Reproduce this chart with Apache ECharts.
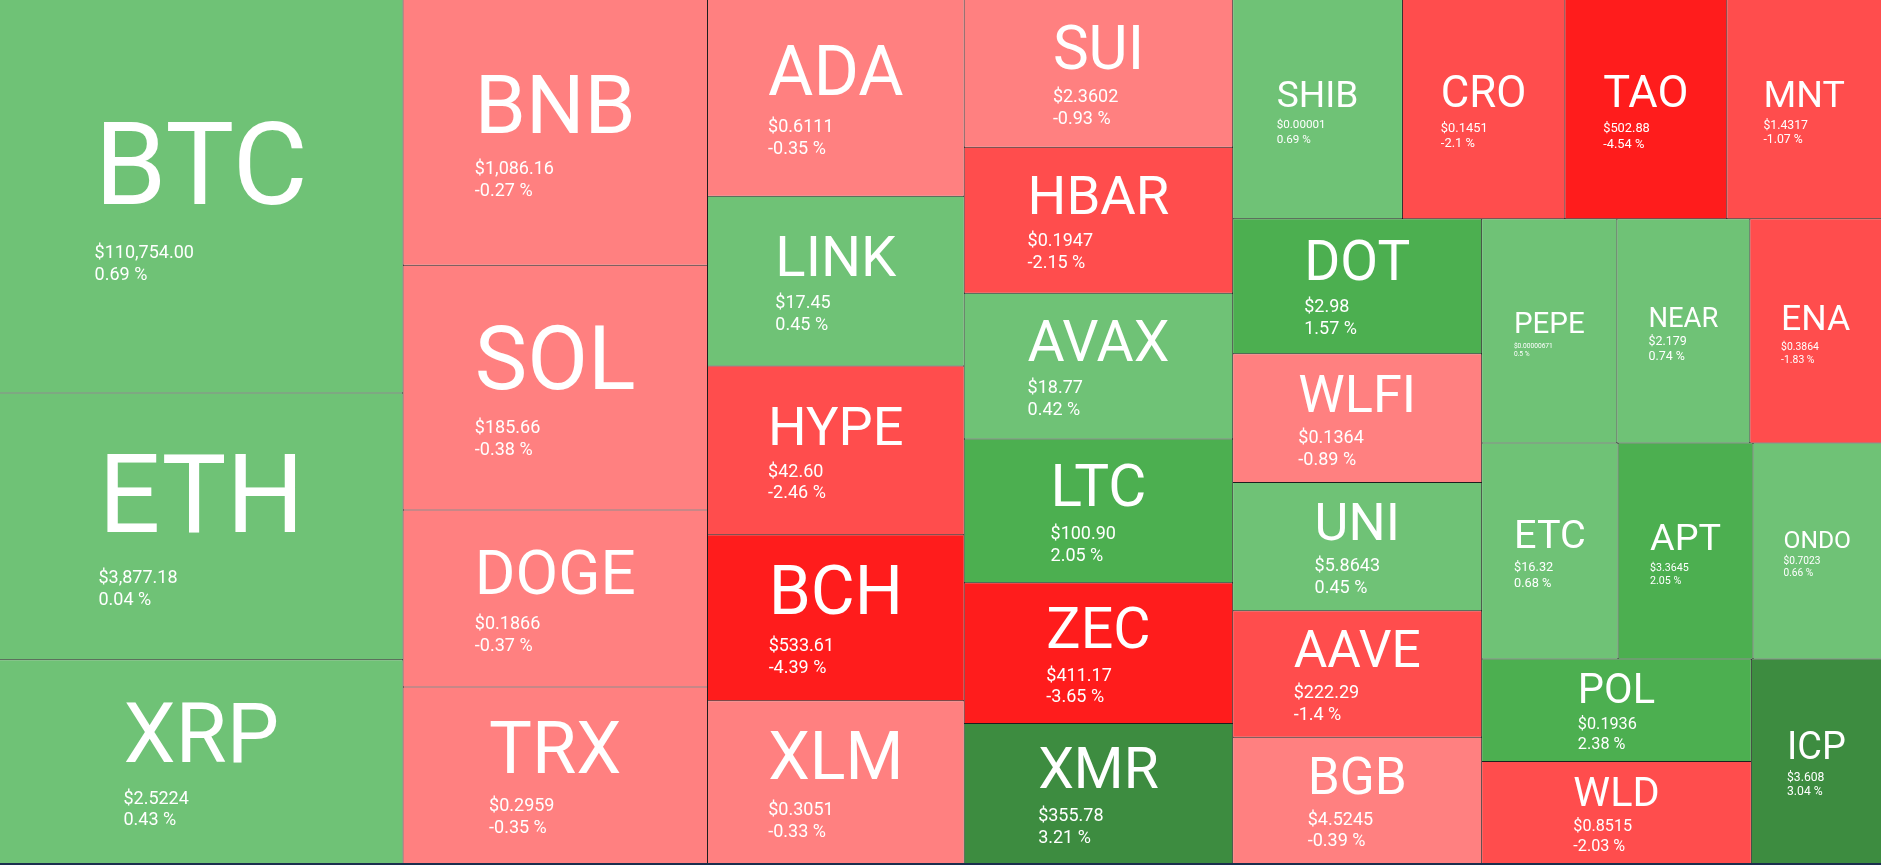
<!DOCTYPE html>
<html><head><meta charset="utf-8">
<script src="https://cdn.jsdelivr.net/npm/echarts@6/dist/echarts.min.js"></script>
<style>html,body{margin:0;padding:0;background:#1b2f4e;overflow:hidden}#c{width:1881px;height:865px}</style>
</head><body><div id="c"></div>
<script>
const symbols = ['BTC','ETH','XRP','BNB','SOL','DOGE','TRX','ADA','LINK','HYPE','BCH','XLM','SUI','HBAR','AVAX','LTC','ZEC','XMR','SHIB','CRO','TAO','MNT','DOT','WLFI','UNI','AAVE','BGB','PEPE','NEAR','ENA','ETC','APT','ONDO','POL','WLD','ICP'];
const sizes = [1592,1079,824,811,747,540,539,506,437,434,427,419,398,393,392,387,379,377,373,357,356,340,337,321,320,316,315,304,299,296,295,292,278,277,276,267];
const prices = ['$110,754.00','$3,877.18','$2.5224','$1,086.16','$185.66','$0.1866','$0.2959','$0.6111','$17.45','$42.60','$533.61','$0.3051','$2.3602','$0.1947','$18.77','$100.90','$411.17','$355.78','$0.00001','$0.1451','$502.88','$1.4317','$2.98','$0.1364','$5.8643','$222.29','$4.5245','$0.00000671','$2.179','$0.3864','$16.32','$3.3645','$0.7023','$0.1936','$0.8515','$3.608'];
const changes = [0.69,0.04,0.43,-0.27,-0.38,-0.37,-0.35,-0.35,0.45,-2.46,-4.39,-0.33,-0.93,-2.15,0.42,2.05,-3.65,3.21,0.69,-2.1,-4.54,-1.07,1.57,-0.89,0.45,-1.4,-0.39,0.5,0.74,-1.83,0.68,2.05,0.66,2.38,-2.03,3.04];

function colorFor(c){
  if (c >= 3) return '#3d8c40';
  if (c >= 1) return '#4caf50';
  if (c >= 0) return '#6fc276';
  if (c > -1) return '#ff8080';
  if (c > -3) return '#ff4d4d';
  return '#ff1c1c';
}
const FONT = 'Roboto';
const mctx = document.createElement('canvas').getContext('2d');
function tw(text, fs){ mctx.font = fs + 'px ' + FONT; return mctx.measureText(text).width; }
function pct(c){ return c + ' %'; }
function baseData(){
  return symbols.map((s,i)=>({name:s, value:sizes[i], price:prices[i], change:changes[i], itemStyle:{color:colorFor(changes[i])}}));
}
const chart = echarts.init(document.getElementById('c'), null, {renderer:'canvas'});
const option = {
  backgroundColor:'#1b2f4e',
  animation:false,
  series:[{
    type:'treemap', left:0, top:0, width:1881, height:863,
    roam:false, nodeClick:false, breadcrumb:{show:false},
    squareRatio: 0.5*(1+Math.sqrt(5)),
    animation:false,
    label:{show:true, position:'insideTopLeft', distance:0, color:'#fff', fontFamily:FONT,
      formatter: p => '{n|' + p.name + '}\n{p|' + p.data.price + '}\n{q|' + pct(p.data.change) + '}'},
    upperLabel:{show:false},
    itemStyle:{borderWidth:0, gapWidth:0},
    emphasis:{disabled:true},
    levels:[
      {itemStyle:{borderWidth:0, gapWidth:1, borderColor:'#1e1e1e'}},
      {itemStyle:{borderWidth:0, gapWidth:0}}
    ],
    data: baseData()
  }]
};
chart.setOption(option);
const tree = chart.getModel().getSeriesByIndex(0).getData().tree;
const layouts = {};
tree.root.children.forEach(n => { layouts[n.name] = n.getLayout(); });
const newData = baseData().map(d => {
  const L = layouts[d.name];
  const w = L.width, h = L.height;
  const nameEm = tw(d.name, 100) / 100;
  const smallEm = Math.max(tw(d.price, 100), tw(pct(d.change), 100)) / 100;
  const fsN = Math.min(0.88 * w / d.name.length, 0.53 * w / nameEm, 0.41 * h);
  const fsS = Math.min(18, 0.29 * w / smallEm, 0.16 * h);
  const LHp = 1.22 * fsS;
  const LHn = 1.2 * fsN - 0.3 * fsS;
  const C = 1.06 * fsN + 1.93 * fsS;
  const cy = h / 2 + 0.012 * h;
  const mN = cy - C / 2 + 0.46 * fsN;
  const padT = Math.max(0, mN - LHn / 2);
  const padL = Math.max(0, (w - tw(d.name, fsN)) / 2);
  const st = (fs, lh) => ({fontSize: fs, lineHeight: lh, color:'#fff', fontFamily: FONT, align:'left'});
  d.label = {padding:[padT, 0, 0, padL], rich:{n: st(fsN, LHn), p: st(fsS, LHp), q: st(fsS, LHp)}};
  return d;
});
chart.setOption({series:[{data:newData}]});
</script>
</body></html>
